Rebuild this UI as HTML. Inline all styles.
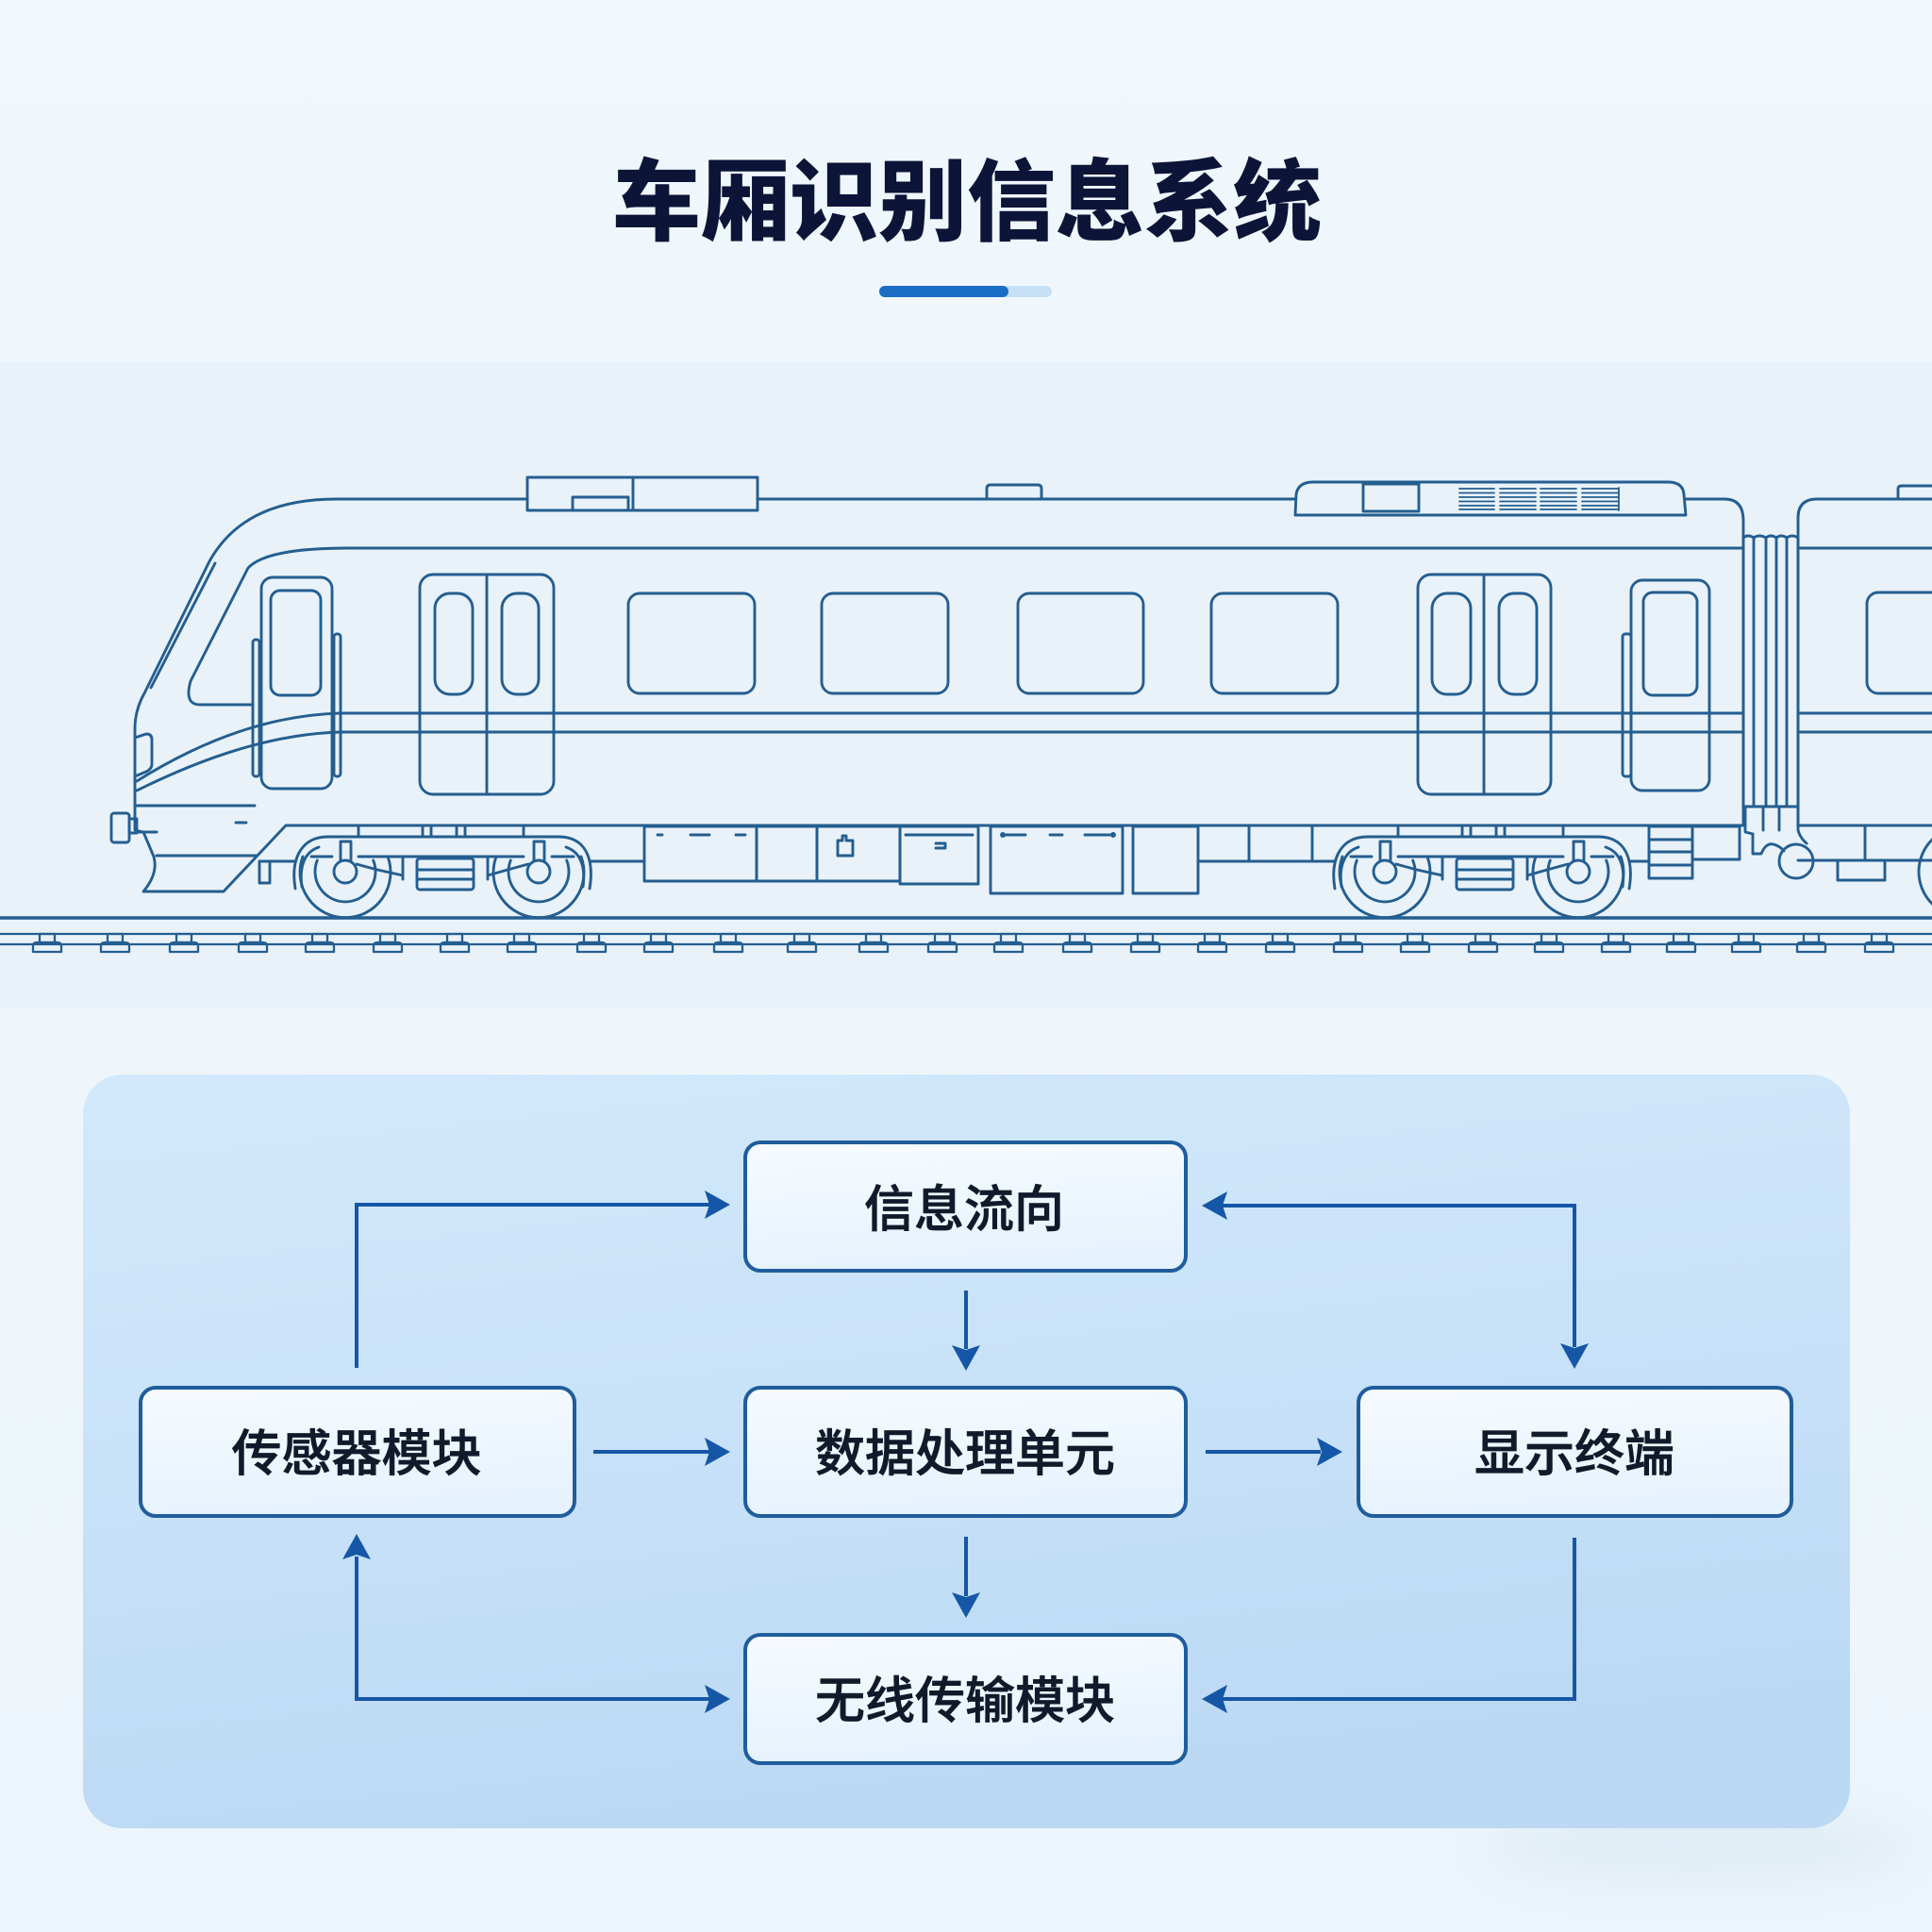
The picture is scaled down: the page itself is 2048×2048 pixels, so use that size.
<!DOCTYPE html>
<html><head><meta charset="utf-8"><style>
html,body{margin:0;padding:0;background:#eef5fb;}
svg{display:block;}
.t{stroke:#245e90;stroke-width:2.9;fill:none;stroke-linejoin:round;stroke-linecap:round;}
.lbl{font-family:"Liberation Sans","Noto Sans CJK SC",sans-serif;font-size:53px;font-weight:500;fill:#111a2b;stroke:#111a2b;stroke-width:0.7;}
</style></head><body>
<svg width="2048" height="2048" viewBox="0 0 2048 2048" xmlns="http://www.w3.org/2000/svg">
<defs>
<linearGradient id="pg" x1="0" y1="0" x2="0.25" y2="1">
<stop offset="0" stop-color="#d3e9fb"/><stop offset="0.5" stop-color="#c8e2f8"/><stop offset="1" stop-color="#bcd9f4"/>
</linearGradient>
<linearGradient id="bx" x1="0" y1="0" x2="0.2" y2="1">
<stop offset="0" stop-color="#f7fbff"/><stop offset="1" stop-color="#e6f2fd"/>
</linearGradient>
<linearGradient id="bg" x1="0" y1="0" x2="0" y2="1">
<stop offset="0" stop-color="#f1f7fc"/><stop offset="1" stop-color="#ecf5fb"/>
</linearGradient>
<filter id="blur" x="-50%" y="-50%" width="200%" height="200%"><feGaussianBlur stdDeviation="25"/></filter>
<g id="sl" class="t" style="stroke-width:2.3"><rect x="-8" y="990" width="16" height="9"/><path d="M -15 1009 L -15 1003 Q -15 999 -11 999 L 11 999 Q 15 999 15 1003 L 15 1009 Z"/></g>
<g id="bogie" class="t">
<path d="M 313 942 C 308 912 318 887 348 887 L 592 887 C 622 887 630 912 625 942"/>
<path d="M 320 940 C 317 918 323 903 338 898"/>
<path d="M 618 940 C 621 918 615 903 600 898"/>
<path d="M 330 908 L 352 908 M 380 908 L 555 908 M 585 908 L 608 908"/>
<path d="M 321 908 A 48 48 0 1 0 411 908"/>
<path d="M 336.3 912 A 32 32 0 1 0 395.7 912"/>
<circle cx="366" cy="924" r="12"/>
<path d="M 526 908 A 48 48 0 1 0 616 908"/>
<path d="M 541.3 912 A 32 32 0 1 0 600.7 912"/>
<circle cx="571" cy="924" r="12"/>
<path d="M 361 912 L 361 892 L 372 892 L 372 912 M 566 912 L 566 892 L 577 892 L 577 912"/>
<rect x="442" y="910" width="60" height="33" rx="3"/>
<path d="M 442 922 H 502 M 442 932 H 502 M 427 908 V 932 M 517 908 V 932"/>
<path d="M 378 916 L 400 922 L 427 928 M 560 916 L 538 922 L 517 928"/>
<path d="M 380 875 V 887 M 448 875 V 887 M 457 875 V 887 M 484 875 V 887 M 493 875 V 887 M 555 875 V 887"/>
</g>
</defs>

<rect x="0" y="0" width="2048" height="2048" fill="url(#bg)"/>
<rect x="0" y="383" width="2048" height="685" fill="#e9f2f9"/>

<!-- Title -->
<text x="1025" y="247" text-anchor="middle" font-family="'Liberation Sans','Noto Sans CJK SC',sans-serif" font-size="94" font-weight="900" fill="#0c1538">车厢识别信息系统</text>
<rect x="932" y="303" width="183" height="12" rx="6" fill="#c6e0f5"/>
<rect x="932" y="303" width="137" height="12" rx="6" fill="#1a6cc4"/>

<!-- Train -->
<g class="t">
<path d="M 357 529 L 559 529 M 803 529 L 1373 529 M 1786 529 L 1828 529 Q 1848 529 1848 552 L 1848 875"/>
<rect x="559" y="506" width="244" height="35"/>
<path d="M 671 506 V 541"/>
<rect x="607" y="527" width="59" height="14"/>
<path d="M 1046 528 L 1046 518 Q 1046 514 1050 514 L 1100 514 Q 1104 514 1104 518 L 1104 528"/>
<path d="M 1373 546 L 1374 524 Q 1376 511 1392 511 L 1768 511 Q 1784 511 1785 524 L 1787 546 Z"/>
<rect x="1445" y="513" width="59" height="29"/>
<path style="stroke-width:1.8" d="M 1547 518 H 1584 M 1547 522.5 H 1584 M 1547 527 H 1584 M 1547 531.5 H 1584 M 1547 536 H 1584 M 1547 540 H 1584 M 1590 518 H 1628 M 1590 522.5 H 1628 M 1590 527 H 1628 M 1590 531.5 H 1628 M 1590 536 H 1628 M 1590 540 H 1628 M 1633 518 H 1671 M 1633 522.5 H 1671 M 1633 527 H 1671 M 1633 531.5 H 1671 M 1633 536 H 1671 M 1633 540 H 1671 M 1677 518 H 1716 M 1677 522.5 H 1716 M 1677 527 H 1716 M 1677 531.5 H 1716 M 1677 536 H 1716 M 1677 540 H 1716 M 1716 517 V 541"/>
<path d="M 357 529 C 300 529 250 545 222 595 L 154 733 Q 143 752 143 772 L 143 880 L 152 882 L 163 908 Q 168 926 152 945 L 237 945 L 303 875 L 1848 875"/>
<path d="M 228 597 L 160 729"/>
<path d="M 166 907 L 272 907 M 143 854 L 270 854 M 145 882 L 166 882 M 250 872 L 261 872"/>
<rect x="118" y="862" width="19" height="31" rx="3"/>
<rect x="137" y="868" width="8" height="15"/>
<path d="M 143 782 L 155 778 Q 161 778 161 784 L 161 810 Q 161 815 155 818 L 143 823"/>
<path d="M 1848 581 L 370 581 C 310 581 276 588 263 602 L 202 722 Q 195 747 212 747 L 268 747"/>
<path d="M 1848 756 L 360 756 C 300 758 230 775 145 828"/>
<path d="M 1848 776 L 360 776 C 300 778 232 795 145 838"/>
<rect x="277" y="612" width="75" height="224" rx="12"/>
<rect x="287" y="626" width="53" height="111" rx="10"/>
<rect x="268" y="678" width="7" height="145" rx="3"/>
<rect x="354" y="672" width="7" height="151" rx="3"/>
<rect x="445" y="609" width="142" height="233" rx="14"/>
<path d="M 516 609 V 842"/>
<rect x="461" y="629" width="40" height="107" rx="16"/>
<rect x="532" y="629" width="39" height="107" rx="16"/>
<rect x="666" y="629" width="134" height="106" rx="12"/>
<rect x="871" y="629" width="134" height="106" rx="12"/>
<rect x="1079" y="629" width="133" height="106" rx="12"/>
<rect x="1284" y="629" width="134" height="106" rx="12"/>
<rect x="1503" y="609" width="141" height="233" rx="14"/>
<path d="M 1573 609 V 842"/>
<rect x="1518" y="629" width="41" height="107" rx="16"/>
<rect x="1589" y="629" width="40" height="107" rx="16"/>
<rect x="1729" y="615" width="83" height="223" rx="12"/>
<rect x="1742" y="628" width="57" height="109" rx="10"/>
<rect x="1720" y="672" width="9" height="151" rx="3"/>
<path d="M 1848 570 Q 1853 566 1859 570 Q 1865 566 1872 570 Q 1877 566 1883 570 Q 1888 566 1894 570 Q 1900 566 1906 570"/>
<path d="M 1848 570 V 855 M 1859 570 V 855 M 1872 570 V 855 M 1883 570 V 855 M 1894 570 V 855 M 1906 570 V 855 M 1848 855 H 1906"/>
<path d="M 1850 855 L 1850 882 L 1858 884 M 1869 855 V 880 M 1886 855 V 880 M 1906 855 L 1906 880 Q 1908 888 1915 894"/>
<path d="M 1858 884 L 1858 905 L 1867 905 Q 1872 893 1880 895 Q 1887 897 1891 902"/>
<circle cx="1904" cy="913" r="18"/>
<path d="M 1906 875 L 1906 549 Q 1906 529 1926 529 L 2048 529"/>
<path d="M 2012 529 L 2012 518 Q 2012 515 2016 515 L 2048 515"/>
<path d="M 1906 581 H 2048 M 1906 756 H 2048 M 1906 776 H 2048 M 1906 875 H 2048 M 1906 912 H 2048 M 1977 875 V 912"/>
<rect x="1979" y="628" width="100" height="107" rx="12"/>
<rect x="1948" y="912" width="50" height="21"/>
<circle cx="2082" cy="924" r="48"/>
<circle cx="2082" cy="924" r="32"/>
<path d="M 286 913 L 312 913 M 626 913 L 683 913 M 1270 913 L 1414 913 M 1727 913 L 1748 913 M 1324 875 V 913 M 1391 875 V 913"/>
<rect x="275" y="913" width="11" height="23"/>
<rect x="683" y="876" width="119" height="58"/>
<path d="M 697 885 H 702 M 732 885 H 752 M 780 885 H 790"/>
<rect x="802" y="876" width="64" height="58"/>
<rect x="866" y="876" width="88" height="58"/>
<path d="M 888 907 V 891 H 893 V 886 H 897 V 891 H 904 V 907 Z"/>
<rect x="954" y="876" width="83" height="61"/>
<path d="M 960 885 H 1031 M 992 894 H 1002 V 899 H 992"/>
<rect x="1050" y="876" width="140" height="71"/>
<path d="M 1063 885 H 1087 M 1113 885 H 1126 M 1150 885 H 1180"/>
<circle cx="1063" cy="885" r="1.5"/><circle cx="1180" cy="885" r="1.5"/>
<rect x="1201" y="876" width="69" height="71"/>
<rect x="1748" y="876" width="46" height="55"/>
<path d="M 1748 890 H 1794 M 1748 903 H 1794 M 1748 917 H 1794"/>
<rect x="1794" y="876" width="50" height="35"/>
<path d="M 0 973 H 2048" style="stroke-width:3.4"/>
<path d="M 0 990 H 2048 M 0 1001 H 2048" style="stroke-width:2.3"/>
</g>
<use href="#bogie"/>
<use href="#bogie" x="1102"/>
<use href="#sl" x="50"/><use href="#sl" x="122"/><use href="#sl" x="195"/><use href="#sl" x="268"/><use href="#sl" x="339"/><use href="#sl" x="411"/><use href="#sl" x="482"/><use href="#sl" x="553"/><use href="#sl" x="627"/><use href="#sl" x="698"/><use href="#sl" x="772"/><use href="#sl" x="850"/><use href="#sl" x="926"/><use href="#sl" x="999"/><use href="#sl" x="1069"/><use href="#sl" x="1142"/><use href="#sl" x="1214"/><use href="#sl" x="1285"/><use href="#sl" x="1357"/><use href="#sl" x="1429"/><use href="#sl" x="1500"/><use href="#sl" x="1572"/><use href="#sl" x="1642"/><use href="#sl" x="1713"/><use href="#sl" x="1782"/><use href="#sl" x="1851"/><use href="#sl" x="1920"/><use href="#sl" x="1992"/>

<!-- Panel -->
<ellipse cx="1800" cy="1958" rx="230" ry="38" fill="#d3e3ee" opacity="0.5" filter="url(#blur)"/>
<rect x="88" y="1139" width="1873" height="799" rx="42" fill="url(#pg)"/>

<!-- Connectors -->
<g stroke="#1557a6" stroke-width="4" fill="none" stroke-linejoin="miter">
<path d="M 378 1450 V 1277 H 752"/>
<path d="M 1296 1278 H 1669 V 1428"/>
<path d="M 1024 1368 V 1430"/>
<path d="M 629 1539 H 752"/>
<path d="M 1278 1539 H 1400"/>
<path d="M 1024 1629 V 1692"/>
<path d="M 378 1650 V 1801 H 752"/>
<path d="M 1669 1630 V 1801 H 1296"/>
</g>
<g fill="#1557a6">
<path d="M 774 1277 L 747 1262 L 752 1277 L 747 1292 Z"/>
<path d="M 1274 1278 L 1301 1263 L 1296 1278 L 1301 1293 Z"/>
<path d="M 1669 1451 L 1654 1424 L 1669 1429 L 1684 1424 Z"/>
<path d="M 1024 1453 L 1009 1426 L 1024 1431 L 1039 1426 Z"/>
<path d="M 774 1539 L 747 1524 L 752 1539 L 747 1554 Z"/>
<path d="M 1423 1539 L 1396 1524 L 1401 1539 L 1396 1554 Z"/>
<path d="M 1024 1715 L 1009 1688 L 1024 1693 L 1039 1688 Z"/>
<path d="M 378 1626 L 363 1653 L 378 1648 L 393 1653 Z"/>
<path d="M 774 1801 L 747 1786 L 752 1801 L 747 1816 Z"/>
<path d="M 1274 1801 L 1301 1786 L 1296 1801 L 1301 1816 Z"/>
</g>

<!-- Boxes -->
<g stroke="#1f5d9c" stroke-width="4" fill="url(#bx)">
<rect x="790" y="1211" width="467" height="136" rx="16"/>
<rect x="149" y="1471" width="460" height="136" rx="16"/>
<rect x="790" y="1471" width="467" height="136" rx="16"/>
<rect x="1440" y="1471" width="459" height="136" rx="16"/>
<rect x="790" y="1733" width="467" height="136" rx="16"/>
</g>
<text class="lbl" x="1022" y="1300" text-anchor="middle">信息流向</text>
<text class="lbl" x="378" y="1559" text-anchor="middle">传感器模块</text>
<text class="lbl" x="1023" y="1559" text-anchor="middle">数据处理单元</text>
<text class="lbl" x="1669" y="1559" text-anchor="middle">显示终端</text>
<text class="lbl" x="1023" y="1821" text-anchor="middle">无线传输模块</text>
</svg>
</body></html>
